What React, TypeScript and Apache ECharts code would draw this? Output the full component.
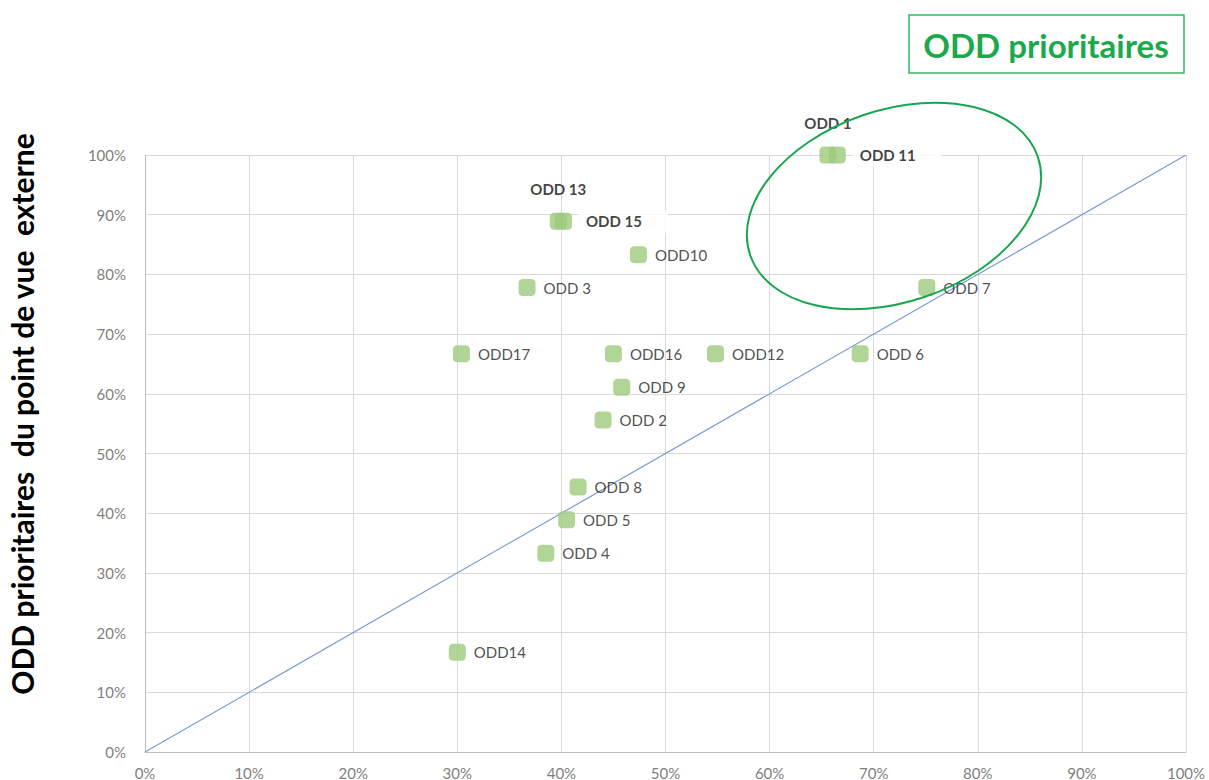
import React, { useEffect, useRef } from "react";
import * as echarts from "echarts";

const labels = ["ODD 1", "ODD 11", "ODD 13", "ODD 15", "ODD10", "ODD 3", "ODD 7", "ODD17", "ODD16", "ODD12", "ODD 6", "ODD 9", "ODD 2", "ODD 8", "ODD 5", "ODD 4", "ODD14"];
const xValues = [65.6, 66.5, 39.7, 40.2, 47.4, 36.7, 75.1, 30.4, 45.0, 54.8, 68.7, 45.8, 44.0, 41.6, 40.5, 38.5, 30.0];
const yValues = [100, 100, 88.9, 88.9, 83.3, 77.8, 77.8, 66.7, 66.7, 66.7, 66.7, 61.1, 55.6, 44.4, 38.9, 33.3, 16.7];
const axisTicks = [0, 10, 20, 30, 40, 50, 60, 70, 80, 90, 100];
const diagonal = [[0, 0], [100, 100]];

const FONT = "Lato, 'Open Sans', sans-serif";

export default function App() {
  const ref = useRef<HTMLDivElement>(null);
  useEffect(() => {
    if (!ref.current) return;
    const chart = echarts.init(ref.current, undefined, { renderer: "svg" });

    const labelFor = (name: string) => {
      if (name === "ODD 1" || name === "ODD 13") {
        return { show: true, position: "top", distance: 16, fontWeight: "bold", fontSize: 15, color: "#111", fontFamily: FONT };
      }
      if (name === "ODD 11" || name === "ODD 15") {
        return {
          show: true, position: "right", distance: 6, fontWeight: "bold", fontSize: 15, color: "#111", fontFamily: FONT,
          backgroundColor: "#fff", padding: [4, 26, 4, 8],
        };
      }
      return { show: true, position: "right", distance: 8, fontSize: 15, color: "#222", fontFamily: FONT };
    };

    const points = labels.map((name, i) => ({
      name,
      value: [xValues[i], yValues[i]],
      label: { ...labelFor(name), formatter: name },
    }));

    chart.setOption({
      animation: false,
      backgroundColor: "#fff",
      textStyle: { fontFamily: FONT },
      grid: { left: 145, right: 23, top: 155, bottom: 28, containLabel: false },
      xAxis: {
        type: "value", min: axisTicks[0], max: axisTicks[axisTicks.length - 1], interval: 10,
        axisLine: { show: true, lineStyle: { color: "#bfbfbf" } },
        axisTick: { show: false },
        axisLabel: { formatter: "{value}%", color: "#7f7f7f", fontSize: 15, margin: 13, fontFamily: FONT },
        splitLine: { show: true, lineStyle: { color: "#d9d9d9" } },
      },
      yAxis: {
        type: "value", min: axisTicks[0], max: axisTicks[axisTicks.length - 1], interval: 10,
        axisLine: { show: true, lineStyle: { color: "#bfbfbf" } },
        axisTick: { show: false },
        axisLabel: { formatter: "{value}%", color: "#7f7f7f", fontSize: 15, margin: 19, fontFamily: FONT, padding: [0, 0, 6, 0] },
        splitLine: { show: true, lineStyle: { color: "#d9d9d9" } },
      },
      series: [
        {
          type: "line",
          data: diagonal,
          showSymbol: false,
          symbol: "none",
          lineStyle: { color: "#7b9bd6", width: 1.2 },
          silent: true,
          z: 1,
        },
        {
          type: "scatter",
          data: points,
          symbol: "roundRect",
          symbolSize: 17,
          itemStyle: { color: "#9ccb7d" },
          z: 3,
        },
      ],
      graphic: [
        {
          type: "ellipse",
          x: 894, y: 206, rotation: 0.33,
          shape: { cx: 0, cy: 0, rx: 152, ry: 96 },
          style: { fill: "none", stroke: "#1aa550", lineWidth: 2 },
          z: 10,
        },
        {
          type: "rect",
          shape: { x: 909, y: 15, width: 275, height: 58 },
          style: { fill: "#fff", stroke: "#2fb860", lineWidth: 1.5 },
        },
        {
          type: "text",
          x: 1046, y: 45,
          style: { text: "ODD prioritaires", fill: "#1aaa4b", font: `bold 33px ${FONT}`, textAlign: "center", textVerticalAlign: "middle" },
        },
        {
          type: "text",
          x: 22, y: 414, rotation: Math.PI / 2,
          style: { text: "ODD prioritaires  du point de vue  externe", fill: "#000", font: `bold 30px ${FONT}`, textAlign: "center", textVerticalAlign: "middle" },
        },
      ],
    });
    return () => chart.dispose();
  }, []);
  return <div ref={ref} style={{ position: "absolute", left: 0, top: 0, width: 1209, height: 780 }} />;
}
